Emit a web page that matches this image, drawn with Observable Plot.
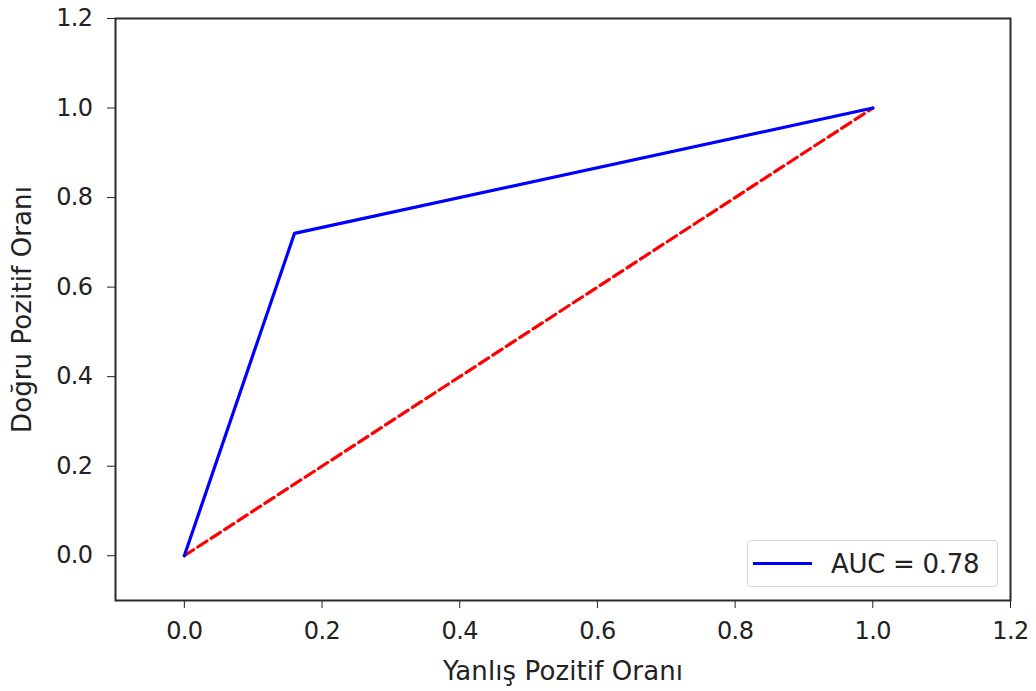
<!DOCTYPE html>
<html>
<head>
<meta charset="utf-8">
<script src="https://cdn.jsdelivr.net/npm/d3@7"></script>
<script src="https://cdn.jsdelivr.net/npm/@observablehq/plot@0.6"></script>
<style>
  html, body { margin: 0; padding: 0; background: #fff; }
  #wrap { position: relative; width: 1036px; height: 691px; font-family: "DejaVu Sans", sans-serif; }
  #legend {
    position: absolute; left: 747px; top: 540px; width: 251px; height: 47px;
    border: 1.5px solid #d8d8d8; border-radius: 4px; background: #fff; box-sizing: border-box;
    display: flex; align-items: center;
  }
  #legend .sw { width: 59px; height: 3px; background: #0000ff; margin-left: 5px; margin-right: 19px; }
  #legend .lb { font-size: 26px; color: #222; letter-spacing: -0.3px; }
  svg g[aria-label$="axis label"] text { font-size: 26px; letter-spacing: 0.1px; }
</style>
</head>
<body>
<div id="wrap"></div>
<script>
// ROC curve data
const fpr = [0, 0.16, 1];
const tpr = [0, 0.72, 1];
// Chance (diagonal) line
const chanceX = [0, 1];
const chanceY = [0, 1];
// Axis ticks
const xTicks = [0, 0.2, 0.4, 0.6, 0.8, 1.0, 1.2];
const yTicks = [0, 0.2, 0.4, 0.6, 0.8, 1.0, 1.2];
const xLabel = "Yanlış Pozitif Oranı";
const yLabel = "Doğru Pozitif Oranı";
const legendLabel = "AUC = 0.78";

const rocData = fpr.map((x, i) => ({x, y: tpr[i]}));
const chanceData = chanceX.map((x, i) => ({x, y: chanceY[i]}));

const chart = Plot.plot({
  width: 1036,
  height: 691,
  marginLeft: 115,
  marginRight: 26,
  marginTop: 18,
  marginBottom: 91,
  style: {fontFamily: "DejaVu Sans, sans-serif", fontSize: "24px", color: "#222", background: "#fff", letterSpacing: "-0.6px"},
  x: {domain: [-0.1, 1.2], ticks: xTicks, tickFormat: d3.format(".1f"), tickSize: 8, tickPadding: 13,
      label: xLabel, labelAnchor: "center", labelArrow: "none", labelOffset: 79},
  y: {domain: [-0.1, 1.2], ticks: yTicks, tickFormat: d3.format(".1f"), tickSize: 8, tickPadding: 15,
      label: yLabel, labelAnchor: "center", labelArrow: "none", labelOffset: 103},
  marks: [
    Plot.line(chanceData, {x: "x", y: "y", stroke: "#ff0000", strokeWidth: 3.2, strokeDasharray: "11,5"}),
    Plot.line(rocData, {x: "x", y: "y", stroke: "#0000ff", strokeWidth: 3.2}),
    Plot.frame({stroke: "#2a2a2a", strokeWidth: 2})
  ]
});
document.getElementById("wrap").appendChild(chart);
const leg = document.createElement("div");
leg.id = "legend";
leg.innerHTML = '<div class="sw"></div><div class="lb"></div>';
leg.querySelector(".lb").textContent = legendLabel;
document.getElementById("wrap").appendChild(leg);
</script>
</body>
</html>
